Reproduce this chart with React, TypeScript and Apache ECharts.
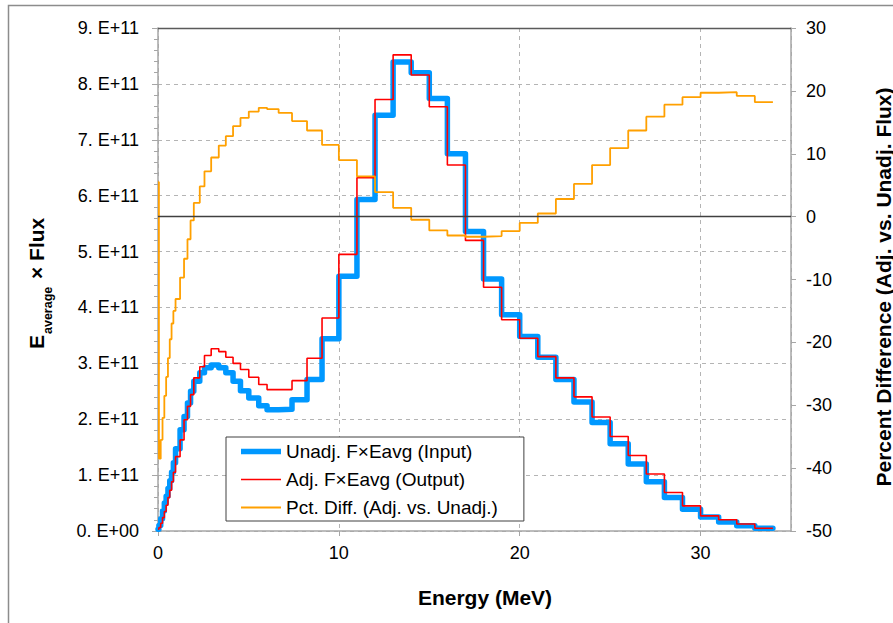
import React, { useEffect, useRef } from "react";
import * as echarts from "echarts";

// Bin edges (MeV)
const binEdgesMeV = [
  0, 0.05, 0.15, 0.25, 0.35, 0.45, 0.55, 0.65, 0.75, 0.85,
  0.97, 1.22, 1.44, 1.63, 1.8, 1.98, 2.31, 2.57, 2.94, 3.36,
  3.75, 4.15, 4.56, 5.02, 5.57, 6.03, 6.67, 7.41, 8.24, 9.07,
  10, 11, 12, 13, 14, 15, 16, 17, 18, 19, 20, 21, 22, 23, 24, 25,
  26, 27, 28, 29, 30, 31, 32, 33, 34,
];

// Unadjusted F×Eavg, in units of 1E+11
const unadjusted = [
  0.03, 0.1, 0.22, 0.36, 0.5, 0.62, 0.76, 0.9, 1.05, 1.22,
  1.47, 1.81, 2.05, 2.29, 2.5, 2.68, 2.83, 2.92, 2.97, 2.92,
  2.83, 2.68, 2.51, 2.38, 2.24, 2.17, 2.18, 2.35, 2.71, 3.44,
  4.56, 5.93, 7.44, 8.39, 8.2, 7.74, 6.75, 5.36, 4.51, 3.87,
  3.48, 3.11, 2.71, 2.31, 1.94, 1.56, 1.2, 0.88, 0.6, 0.39,
  0.25, 0.16, 0.095, 0.05,
];

// Adjusted F×Eavg, in units of 1E+11
const adjusted = [
  0.03, 0.06, 0.14, 0.24, 0.35, 0.46, 0.6, 0.73, 0.88, 1.05,
  1.33, 1.63, 1.99, 2.23, 2.44, 2.74, 2.94, 3.14, 3.26, 3.21,
  3.11, 3.0, 2.89, 2.75, 2.62, 2.53, 2.53, 2.69, 3.09, 3.81,
  4.95, 6.32, 7.72, 8.52, 8.16, 7.59, 6.55, 5.2, 4.36, 3.78,
  3.45, 3.12, 2.74, 2.4, 2.04, 1.69, 1.35, 1.02, 0.69, 0.45,
  0.27, 0.2, 0.125, 0.05,
];

// Percent difference (Adj. vs. Unadj.)
const pctDiff = [
  5.5, -38.5, -35.5, -32, -28.5, -25.5, -22.5, -19.5, -17, -15,
  -13.1, -9.7, -6.7, -3.6, -0.6, 2.2, 4.8, 7.2, 9.4, 11.3,
  12.8, 14.4, 15.7, 16.7, 17.3, 17.1, 16.5, 15.2, 13.7, 11.4,
  9.0, 6.4, 3.9, 1.4, -0.5, -2.2, -3.0, -3.2, -3.1, -2.3,
  -1.0, 0.5, 2.8, 5.2, 8.2, 10.9, 13.7, 15.9, 17.8, 19.0,
  19.7, 19.8, 19.2, 18.2,
];

const UNIT = 1e11;
const leftTicks = [0, 1, 2, 3, 4, 5, 6, 7, 8, 9];
const seriesNames = [
  "Unadj. F×Eavg (Input)",
  "Adj. F×Eavg (Output)",
  "Pct. Diff. (Adj. vs. Unadj.)",
];
const seriesColors = ["#0098ff", "#ff0000", "#ffa000"];
const seriesWidths = [5.5, 1.6, 1.8];

const FONT = "'Liberation Sans', Arial, sans-serif";

function toSteps(vals: number[], scale: number) {
  const pts: number[][] = vals.map((v, i) => [binEdgesMeV[i], v * scale]);
  pts.push([binEdgesMeV[vals.length], vals[vals.length - 1] * scale]);
  return pts;
}

export default function App() {
  const ref = useRef<HTMLDivElement>(null);
  useEffect(() => {
    const chart = echarts.init(ref.current!, null, { renderer: "svg" });
    const gridColor = "#b4b4b4";
    const axisColor = "#a6a6a6";
    const option: any = {
      animation: false,
      backgroundColor: "#ffffff",
      textStyle: { fontFamily: FONT },
      grid: { left: 158, right: 102, top: 28, bottom: 92, containLabel: false },
      xAxis: [
        {
          type: "value",
          min: 0,
          max: 35,
          interval: 10,
          axisLine: { show: true, onZero: false, lineStyle: { color: axisColor, width: 1.5 } },
          axisTick: { show: true, length: 5, lineStyle: { color: axisColor } },
          axisLabel: {
            fontSize: 18,
            color: "#000",
            margin: 13,
            fontFamily: FONT,
            showMaxLabel: false,
            formatter: (v: number) => (v > 30 ? "" : String(v)),
          },
          splitLine: { show: true, lineStyle: { type: [4, 4], color: gridColor } },
        },
        {
          type: "value",
          position: "top",
          min: 0,
          max: 35,
          axisLine: { show: true, onZero: false, lineStyle: { color: "#5a5a5a", width: 1.3 } },
          axisTick: { show: false },
          axisLabel: { show: false },
          splitLine: { show: false },
        },
      ],
      yAxis: [
        {
          type: "value",
          position: "left",
          min: leftTicks[0] * UNIT,
          max: leftTicks[leftTicks.length - 1] * UNIT,
          interval: UNIT,
          axisLine: { show: true, onZero: false, lineStyle: { color: axisColor, width: 1.5 } },
          axisTick: { show: true, inside: false, length: 6, lineStyle: { color: axisColor } },
          minorTick: { show: true, splitNumber: 5, length: 4, lineStyle: { color: axisColor } },
          axisLabel: {
            fontSize: 18,
            color: "#000",
            margin: 19,
            fontFamily: FONT,
            formatter: (v: number) => (v === 0 ? "0. E+00" : `${Math.round(v / UNIT)}. E+11`),
          },
          splitLine: { show: true, lineStyle: { type: [4, 4], color: gridColor } },
        },
        {
          type: "value",
          position: "right",
          min: -50,
          max: 30,
          interval: 10,
          axisLine: { show: true, onZero: false, lineStyle: { color: axisColor, width: 1.5 } },
          axisTick: { show: true, inside: false, length: 5, lineStyle: { color: axisColor } },
          axisLabel: { fontSize: 18, color: "#000", margin: 15, fontFamily: FONT },
          splitLine: { show: false },
        },
      ],
      legend: {
        orient: "vertical",
        left: 226,
        top: 437,
        itemWidth: 40,
        itemHeight: 12,
        itemGap: 9,
        padding: [5, 26, 4, 15],
        borderColor: "#404040",
        borderWidth: 1,
        backgroundColor: "#ffffff",
        textStyle: { fontSize: 19, color: "#000", fontFamily: FONT },
        data: seriesNames.map((name, i) => ({
          name,
          icon: `path://M0,0 H40 V${seriesWidths[i]} H0 Z`,
          itemStyle: { color: seriesColors[i] },
        })),
      },
      series: [
        {
          name: seriesNames[0],
          type: "line",
          step: "end",
          symbol: "none",
          data: toSteps(unadjusted, UNIT),
          lineStyle: { color: seriesColors[0], width: seriesWidths[0], join: "round", cap: "round" },
          itemStyle: { color: seriesColors[0] },
          z: 2,
        },
        {
          name: seriesNames[1],
          type: "line",
          step: "end",
          symbol: "none",
          data: toSteps(adjusted, UNIT),
          lineStyle: { color: seriesColors[1], width: seriesWidths[1] },
          itemStyle: { color: seriesColors[1] },
          z: 3,
        },
        {
          name: seriesNames[2],
          type: "line",
          step: "end",
          symbol: "none",
          yAxisIndex: 1,
          data: toSteps(pctDiff, 1),
          lineStyle: { color: seriesColors[2], width: seriesWidths[2] },
          itemStyle: { color: seriesColors[2] },
          z: 4,
          markLine: {
            silent: true,
            symbol: "none",
            label: { show: false },
            lineStyle: { color: "#404040", type: "solid", width: 1.3 },
            data: [{ yAxis: 0 }],
            z: 5,
          },
        },
      ],
      graphic: [
        {
          type: "rect",
          shape: { x: 8.5, y: 5.5, width: 1000, height: 1000 },
          style: { fill: "none", stroke: "#8c8c8c", lineWidth: 1.5 },
          silent: true,
          z: 100,
        },
        {
          type: "group",
          x: 47,
          y: 349,
          rotation: Math.PI / 2,
          children: [
            {
              type: "text",
              x: 0,
              y: 0,
              style: { text: "E", font: `bold 21px ${FONT}`, fill: "#000", align: "left", verticalAlign: "bottom" },
            },
            {
              type: "text",
              x: 15,
              y: 7,
              style: { text: "average", font: `bold 12.5px ${FONT}`, fill: "#000", align: "left", verticalAlign: "bottom" },
            },
            {
              type: "text",
              x: 70,
              y: 0,
              style: { text: "× Flux", font: `bold 21px ${FONT}`, fill: "#000", align: "left", verticalAlign: "bottom" },
            },
          ],
        },
        {
          type: "text",
          x: 883,
          y: 287,
          rotation: Math.PI / 2,
          style: {
            text: "Percent Difference (Adj. vs. Unadj. Flux)",
            font: `bold 21px ${FONT}`,
            fill: "#000",
            align: "center",
            verticalAlign: "middle",
          },
        },
        {
          type: "text",
          x: 485,
          y: 597,
          style: {
            text: "Energy (MeV)",
            font: `bold 21px ${FONT}`,
            fill: "#000",
            align: "center",
            verticalAlign: "middle",
          },
        },
      ],
    };
    chart.setOption(option);
    return () => chart.dispose();
  }, []);
  return (
    <div
      ref={ref}
      style={{ position: "fixed", left: 0, top: 0, width: 893, height: 623, background: "#fff" }}
    />
  );
}
